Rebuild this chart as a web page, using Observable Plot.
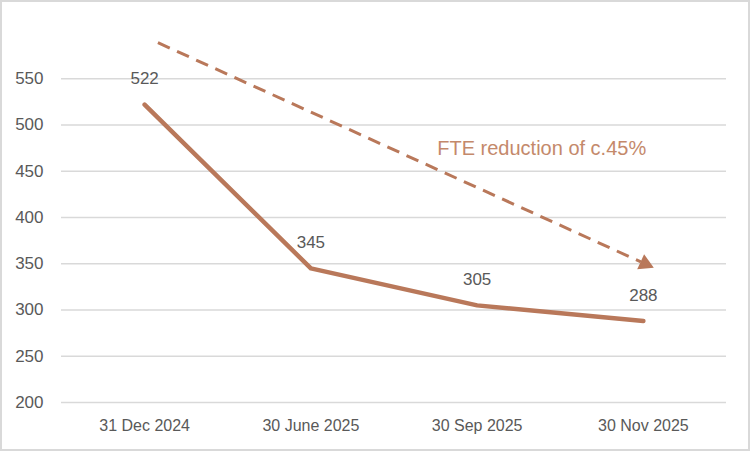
<!DOCTYPE html>
<html>
<head>
<meta charset="utf-8">
<script src="https://cdn.jsdelivr.net/npm/d3@7"></script>
<script src="https://cdn.jsdelivr.net/npm/@observablehq/plot@0.6"></script>
<style>
  html, body { margin: 0; padding: 0; background: #fff; }
  #wrap { position: relative; width: 750px; height: 451px; overflow: hidden; }
  #wrap svg { position: absolute; left: 0; top: 0; }
  #border { position: absolute; left: 0; top: 0; width: 750px; height: 451px; box-sizing: border-box; border: 2px solid #d9d9d9; pointer-events: none; }
</style>
</head>
<body>
<div id="wrap"><div id="border"></div></div>
<script>
// Data
const categories = ["31 Dec 2024", "30 June 2025", "30 Sep 2025", "30 Nov 2025"];
const fteValues = [522, 345, 305, 288];
const yTicks = [200, 250, 300, 350, 400, 450, 500, 550];
// Annotation arrow (category-index units, value units)
const arrowStart = [0.08, 589];
const arrowShaftEnd = [2.985, 352];
const arrowHeadCenter = [3.01, 350];
const annotationText = "FTE reduction of c.45%";
const annotationPos = [1.76, 474];

const data = categories.map((c, i) => ({i, cat: c, v: fteValues[i]}));
const lineColor = "#b9785a";

const chart = Plot.plot({
  width: 750,
  height: 451,
  marginLeft: 61,
  marginRight: 24,
  marginTop: 32,
  marginBottom: 49,
  style: {fontFamily: "'Liberation Sans', Arial, sans-serif", background: "transparent", overflow: "visible"},
  x: {domain: [-0.5, categories.length - 0.5], axis: null},
  y: {domain: [200, 600], axis: null},
  marks: [
    Plot.ruleY(yTicks, {stroke: "#d9d9d9", strokeWidth: 1.5}),
    Plot.text(yTicks, {x: -0.5, y: d => d, text: d => String(d), textAnchor: "end", dx: -18, fill: "#595959", fontSize: 17}),
    Plot.text(data, {x: "i", y: 200, text: "cat", dy: 23, fill: "#595959", fontSize: 16}),
    Plot.link([{x1: arrowStart[0], y1: arrowStart[1], x2: arrowShaftEnd[0], y2: arrowShaftEnd[1]}], {
      x1: "x1", y1: "y1", x2: "x2", y2: "y2",
      stroke: lineColor, strokeWidth: 3, strokeDasharray: "13,8"
    }),
    Plot.dot([arrowHeadCenter], {x: d => d[0], y: d => d[1], symbol: "triangle", r: 6.2, fill: lineColor, stroke: "none", rotate: 114.4}),
    Plot.line(data, {x: "i", y: "v", stroke: lineColor, strokeWidth: 4.5, strokeLinecap: "round", strokeLinejoin: "round"}),
    Plot.text(data, {x: "i", y: "v", text: d => String(d.v), dy: -26, fill: "#595959", fontSize: 17}),
    Plot.text([annotationText], {x: annotationPos[0], y: annotationPos[1], text: d => d, textAnchor: "start", fill: "#c4896b", fontSize: 20})
  ]
});
document.getElementById("wrap").prepend(chart);
</script>
</body>
</html>
